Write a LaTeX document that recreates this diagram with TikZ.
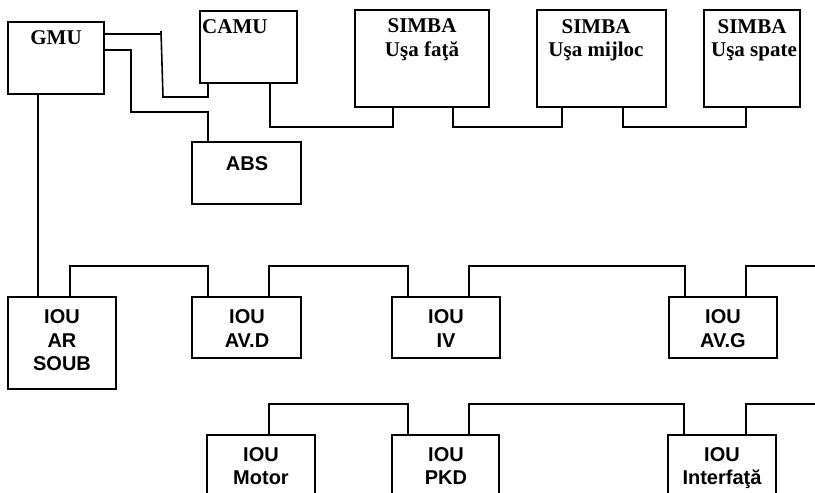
\documentclass[tikz,border=0pt]{standalone}
\usepackage{fontspec}
\setmainfont{Liberation Serif}
\newfontfamily\sansfam{Liberation Sans}
\usetikzlibrary{calc}
\begin{document}
\begin{tikzpicture}[x=1pt,y=-1pt,
  box/.style={draw,line width=2pt,inner sep=0pt,outer sep=0pt,anchor=north west},
  conn/.style={line width=1.6pt},
  sf/.style={anchor=base,inner sep=0pt,font=\sansfam\bfseries\fontsize{20}{24}\selectfont},
  rm/.style={anchor=base,inner sep=0pt,font=\bfseries\fontsize{21}{24}\selectfont}]
\clip (0,0) rectangle (815,493);
\fill[white] (0,0) rectangle (815,493);
% top row
\node[box,minimum width=96pt,minimum height=72pt] (gmu) at (8,22) {};
\node[box,minimum width=97pt,minimum height=72pt] (camu) at (200,11) {};
\node[box,minimum width=109pt,minimum height=62pt] (abs) at (192,142) {};
\node[box,minimum width=134pt,minimum height=97pt] (simba1) at (355,10) {};
\node[box,minimum width=129pt,minimum height=97pt] (simba2) at (537,10) {};
\node[box,minimum width=96pt,minimum height=97pt] (simba3) at (704,10) {};
% middle row
\node[box,minimum width=108pt,minimum height=92pt] (ar) at (8,297) {};
\node[box,minimum width=109pt,minimum height=61pt] (avd) at (192,297) {};
\node[box,minimum width=108pt,minimum height=61pt] (iv) at (392,297) {};
\node[box,minimum width=108pt,minimum height=61pt] (avg) at (669,297) {};
% bottom row
\node[box,minimum width=108pt,minimum height=80pt] (motor) at (207,435) {};
\node[box,minimum width=107pt,minimum height=80pt] (pkd) at (392,435) {};
\node[box,minimum width=108pt,minimum height=80pt] (intf) at (668,435) {};
% labels
\node[rm] (tgmu) at (56,44) {GMU};
\node[rm,anchor=base west] (tcamu) at (202,33) {CAMU};
\node[rm] (ts1a) at (422,32) {SIMBA};
\node[rm] (ts1b) at (422,56) {Uşa faţă};
\node[rm] (ts2a) at (596,33) {SIMBA};
\node[rm] (ts2b) at (596,56) {Uşa mijloc};
\node[rm] (ts3a) at (752,33) {SIMBA};
\node[rm] (ts3b) at (754,56) {Uşa spate};
\node[sf] (tabs) at (247,170) {ABS};
\node[sf] (tar1) at (62,323) {IOU};
\node[sf] (tar2) at (62,347) {AR};
\node[sf] (tar3) at (62,370) {SOUB};
\node[sf] (tavd1) at (247,323) {IOU};
\node[sf] (tavd2) at (247,347) {AV.D};
\node[sf] (tiv1) at (446,323) {IOU};
\node[sf] (tiv2) at (446,347) {IV};
\node[sf] (tavg1) at (723,323) {IOU};
\node[sf] (tavg2) at (723,347) {AV.G};
\node[sf] (tmo1) at (261,461) {IOU};
\node[sf] (tmo2) at (261,484) {Motor};
\node[sf] (tpk1) at (446,461) {IOU};
\node[sf] (tpk2) at (446,484) {PKD};
\node[sf] (tin1) at (722,461) {IOU};
\node[sf] (tin2) at (722,484) {Interfaţă};
% helper coordinates
\coordinate (k0) at (161,34);
\coordinate (k1) at (161,31);
\coordinate (k2) at (163,97);
\coordinate (b1) at (131,112);
\coordinate (e1) at (818,266);
\coordinate (e2) at (818,404);
% connectors
\draw[conn] ($(gmu.north east)+(0,12)$) -- (k0);
\draw[conn] (k1) -- (k2) -| ($(camu.south west)+(8,0)$);
\draw[conn] ($(gmu.north east)+(0,28)$) -| (b1) -| ($(abs.north west)+(16,0)$);
\draw[conn] ($(gmu.south west)+(30,0)$) -- ($(ar.north west)+(30,0)$);
\draw[conn] ($(camu.south west)+(70,0)$) -- ++(0,44) -| ($(simba1.south west)+(38,0)$);
\draw[conn] ($(simba1.south west)+(98,0)$) -- ++(0,20) -| ($(simba2.south west)+(25,0)$);
\draw[conn] ($(simba2.south west)+(86,0)$) -- ++(0,20) -| ($(simba3.south west)+(42,0)$);
\draw[conn] ($(ar.north west)+(62,0)$) -- ++(0,-31) -| ($(avd.north west)+(16,0)$);
\draw[conn] ($(avd.north west)+(77,0)$) -- ++(0,-31) -| ($(iv.north west)+(16,0)$);
\draw[conn] ($(iv.north west)+(77,0)$) -- ++(0,-31) -| ($(avg.north west)+(16,0)$);
\draw[conn] ($(avg.north west)+(77,0)$) |- (e1);
\draw[conn] ($(motor.north west)+(62,0)$) -- ++(0,-31) -| ($(pkd.north west)+(16,0)$);
\draw[conn] ($(pkd.north west)+(77,0)$) -- ++(0,-31) -| ($(intf.north west)+(16,0)$);
\draw[conn] ($(intf.north west)+(78,0)$) |- (e2);
\end{tikzpicture}
\end{document}
